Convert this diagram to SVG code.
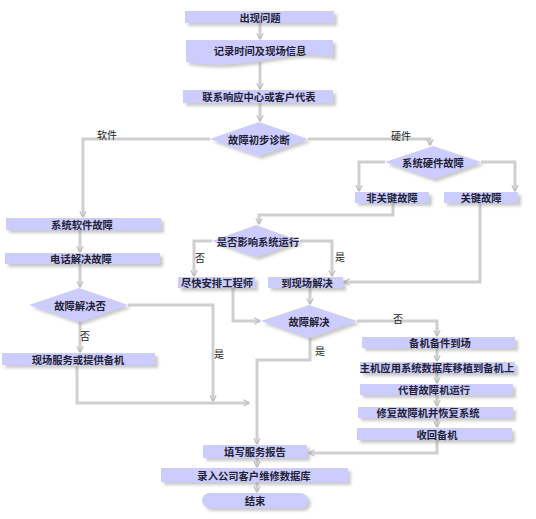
<svg xmlns="http://www.w3.org/2000/svg" width="536" height="519" viewBox="0 0 536 519">
<defs>
<style>
.b{fill:#ccccff;filter:url(#sh)}
.t{font-family:"Noto Sans CJK SC","Noto Sans",sans-serif;font-size:10.3px;font-weight:600;fill:#222233;text-anchor:middle;dominant-baseline:central}
.l{font-family:"Noto Sans CJK SC","Noto Sans",sans-serif;font-size:10px;fill:#222;text-anchor:middle;dominant-baseline:central}
.c path{fill:none;stroke:#cfcfcf;stroke-width:3}
.c path.a{marker-end:url(#ah)}
</style>
<filter id="sh" x="-10%" y="-40%" width="130%" height="200%">
<feGaussianBlur in="SourceAlpha" stdDeviation="1.6"/>
<feOffset dx="3" dy="3" result="b"/>
<feFlood flood-color="#8a8a8a" flood-opacity="0.45"/>
<feComposite in2="b" operator="in"/>
<feMerge><feMergeNode/><feMergeNode in="SourceGraphic"/></feMerge>
</filter>
<marker id="ah" viewBox="0 0 10 10" refX="8" refY="5" markerWidth="8" markerHeight="8" orient="auto" markerUnits="userSpaceOnUse">
<path d="M1,1 L8,5 L1,9" fill="none" stroke="#bdbdbd" stroke-width="1.4"/>
</marker>
</defs>
<rect width="536" height="519" fill="#ffffff"/>
<g class="c" id="connectors">
<path class="a" d="M260,23 V39"/>
<path class="a" d="M260,62 V89"/>
<path class="a" d="M260,103 V121"/>
<path class="a" d="M210,139 H83 V217"/>
<path class="a" d="M308,139 H430 V145"/>
<path class="a" d="M385,162 H359 V191"/>
<path class="a" d="M481,162 H515 V191"/>
<path class="a" d="M393,203 V215 H259 V224"/>
<path class="a" d="M212,241 H194 V276"/>
<path class="a" d="M300,241 H332 V276"/>
<path class="a" d="M480,203 V282 H344"/>
<path class="a" d="M233,288 V321 H260"/>
<path class="a" d="M310,288 V304"/>
<path class="a" d="M357,321 H437 V336"/>
<path class="a" d="M310,338 V360 H257 V444"/>
<path class="a" d="M80,230 V252"/>
<path class="a" d="M80,264 V287"/>
<path class="a" d="M80,322 V352"/>
<path class="a" d="M128,305 H213 V401"/>
<path class="a" d="M77,366 V403 H249"/>
<path class="a" d="M437,348 V361"/>
<path class="a" d="M437,373 V383"/>
<path class="a" d="M437,395 V406"/>
<path class="a" d="M437,418 V427"/>
<path class="a" d="M437,440 V453 H309"/>
<path class="a" d="M257,458 V467"/>
<path class="a" d="M257,482 V492"/>
</g>
<g id="labels">
<text class="l" x="107" y="134">软件</text>
<text class="l" x="401" y="135">硬件</text>
<text class="l" x="200" y="257">否</text>
<text class="l" x="340" y="256">是</text>
<text class="l" x="398" y="318">否</text>
<text class="l" x="320" y="350">是</text>
<text class="l" x="85" y="335">否</text>
<text class="l" x="219" y="353">是</text>
</g>
<g id="n1"><rect class="b" x="185" y="11" width="149" height="12"/><text class="t" x="260" y="17">出现问题</text></g>
<g id="n2"><path class="b" d="M186,40 H333 V57 C305,52 285,56 262,60 C235,65 210,66 186,62 Z"/><text class="t" x="260" y="50">记录时间及现场信息</text></g>
<g id="n3"><rect class="b" x="183" y="90" width="150" height="13"/><text class="t" x="259" y="96.5">联系响应中心或客户代表</text></g>
<g id="d1"><polygon class="b" points="259,122 308,139 259,156 210,139"/><text class="t" x="259" y="139">故障初步诊断</text></g>
<g id="d2"><polygon class="b" points="433,146 481,162 433,179 385,162"/><text class="t" x="433" y="162">系统硬件故障</text></g>
<g id="n4"><rect class="b" x="355" y="192" width="74" height="11"/><text class="t" x="392" y="197.5">非关键故障</text></g>
<g id="n5"><rect class="b" x="444" y="192" width="74" height="11"/><text class="t" x="481" y="197.5">关键故障</text></g>
<g id="n6"><rect class="b" x="6" y="218" width="155" height="12"/><text class="t" x="82" y="224">系统软件故障</text></g>
<g id="d3"><polygon class="b" points="256,225 300,241 256,257 212,241"/><text class="t" x="258" y="241">是否影响系统运行</text></g>
<g id="n7"><rect class="b" x="5" y="253" width="155" height="11"/><text class="t" x="81" y="258.5">电话解决故障</text></g>
<g id="n8"><rect class="b" x="178" y="277" width="77" height="11"/><text class="t" x="217" y="282.5">尽快安排工程师</text></g>
<g id="n9"><rect class="b" x="268" y="277" width="75" height="11"/><text class="t" x="307" y="282.5">到现场解决</text></g>
<g id="d4"><polygon class="b" points="79,288 128,305 79,322 29,305"/><text class="t" x="80" y="305">故障解决否</text></g>
<g id="d5"><polygon class="b" points="309,305 357,321 309,338 261,321"/><text class="t" x="309" y="321">故障解决</text></g>
<g id="n10"><rect class="b" x="362" y="337" width="153" height="11"/><text class="t" x="440" y="342.5">备机备件到场</text></g>
<g id="n11"><rect class="b" x="2" y="353" width="153" height="12"/><text class="t" x="78" y="359">现场服务或提供备机</text></g>
<g id="n12"><rect class="b" x="360" y="362" width="155" height="11"/><text class="t" x="437" y="367.5">主机应用系统数据库移植到备机上</text></g>
<g id="n13"><rect class="b" x="360" y="384" width="153" height="11"/><text class="t" x="434" y="389.5">代替故障机运行</text></g>
<g id="n14"><rect class="b" x="358" y="407" width="155" height="11"/><text class="t" x="428" y="412.5">修复故障机并恢复系统</text></g>
<g id="n15"><rect class="b" x="357" y="428" width="155" height="12"/><text class="t" x="437" y="434">收回备机</text></g>
<g id="n16"><rect class="b" x="203" y="445" width="104" height="13"/><text class="t" x="255" y="451.5">填写服务报告</text></g>
<g id="n17"><rect class="b" x="161" y="468" width="187" height="14"/><text class="t" x="254" y="475">录入公司客户维修数据库</text></g>
<g id="n18"><rect class="b" x="202" y="493" width="106" height="15" rx="7.5"/><text class="t" x="255" y="500.5">结束</text></g>
</svg>
